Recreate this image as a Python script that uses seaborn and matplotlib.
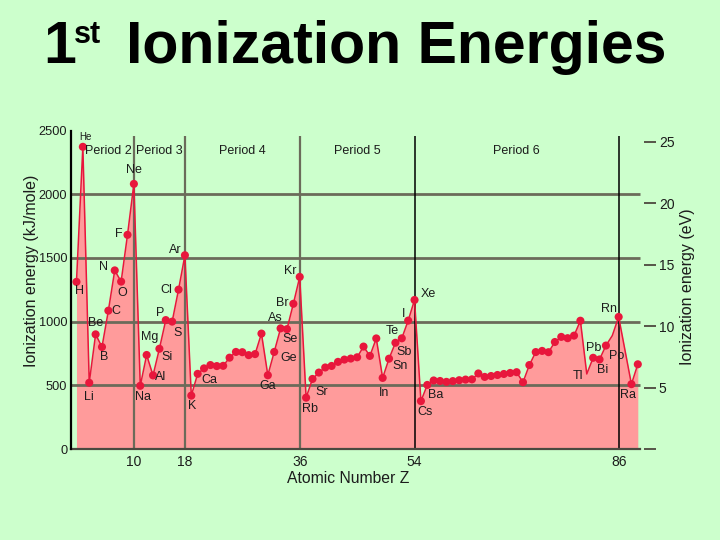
import matplotlib
matplotlib.use("Agg")
import matplotlib.pyplot as plt
import pandas as pd
import seaborn as sns

# ---------------- data ----------------
symbols = ["H", "He", "Li", "Be", "B", "C", "N", "O", "F", "Ne",
           "Na", "Mg", "Al", "Si", "P", "S", "Cl", "Ar",
           "K", "Ca", "Sc", "Ti", "V", "Cr", "Mn", "Fe", "Co", "Ni", "Cu", "Zn",
           "Ga", "Ge", "As", "Se", "Br", "Kr",
           "Rb", "Sr", "Y", "Zr", "Nb", "Mo", "Tc", "Ru", "Rh", "Pd", "Ag", "Cd",
           "In", "Sn", "Sb", "Te", "I", "Xe",
           "Cs", "Ba", "La", "Ce", "Pr", "Nd", "Pm", "Sm", "Eu", "Gd", "Tb", "Dy",
           "Ho", "Er", "Tm", "Yb", "Lu",
           "Hf", "Ta", "W", "Re", "Os", "Ir", "Pt", "Au", "Hg",
           "Tl", "Pb", "Bi", "Po", "At", "Rn",
           "Ra", "Ac"]
atomic_number = [1, 2, 3, 4, 5, 6, 7, 8, 9, 10,
                 11, 12, 13, 14, 15, 16, 17, 18,
                 19, 20, 21, 22, 23, 24, 25, 26, 27, 28, 29, 30,
                 31, 32, 33, 34, 35, 36,
                 37, 38, 39, 40, 41, 42, 43, 44, 45, 46, 47, 48,
                 49, 50, 51, 52, 53, 54,
                 55, 56, 57, 58, 59, 60, 61, 62, 63, 64, 65, 66,
                 67, 68, 69, 70, 71,
                 72, 73, 74, 75, 76, 77, 78, 79, 80,
                 81, 82, 83, 84, 85, 86,
                 88, 89]
ionization_kj = [1312, 2372, 520, 900, 801, 1086, 1402, 1314, 1681, 2081,
                 496, 738, 578, 787, 1012, 1000, 1251, 1521,
                 419, 590, 633, 659, 651, 653, 717, 762, 760, 737, 745, 906,
                 579, 762, 947, 941, 1140, 1351,
                 403, 550, 600, 640, 652, 684, 702, 710, 720, 804, 731, 868,
                 558, 709, 834, 869, 1008, 1170,
                 376, 503, 538, 534, 527, 533, 540, 545, 547, 593, 566, 573,
                 581, 589, 597, 603, 524,
                 659, 761, 770, 760, 840, 880, 870, 890, 1007,
                 589, 716, 703, 812, 890, 1037,
                 509, 665]
no_marker = ["Tl", "At"]

period_names = ["Period 2", "Period 3", "Period 4", "Period 5", "Period 6"]
period_bounds = [2, 10, 18, 36, 54, 86]
gray_bounds = [10, 18, 36]
black_bounds = [54, 86]

x_ticks = [10, 18, 36, 54, 86]
kj_ticks = [0, 500, 1000, 1500, 2000, 2500]
grid_kj = [500, 1000, 1500, 2000]
ev_ticks = [0, 5, 10, 15, 20, 25]
ev_tick_labels = ["", "5", "10", "15", "20", "25"]
KJ_PER_EV = 96.485

# ---------------- style ----------------
BG = "#ccffcc"
FILL = "#ff9b9b"
RED = "#e8173c"
GRID = "#6b6b5a"
TXT = "#1c1c1c"

# label offsets in pixels (dx, dy up)
label_offsets = {
    "H": (3, -9), "He": (3, 10), "Li": (0, -14), "Be": (0, 11), "B": (2, -10),
    "C": (8, 0), "N": (-11, 3), "O": (1, -11), "F": (-9, 1), "Ne": (0, 14),
    "Na": (3, -11), "Mg": (3, 18), "Al": (8, -2), "Si": (8, -8), "P": (-6, 7),
    "S": (5, -11), "Cl": (-12, 0), "Ar": (-10, 5), "K": (1, -10), "Ca": (12, -6),
    "Ga": (0, -11), "Ge": (14, -6), "As": (-5, 10), "Se": (3, -10), "Br": (-11, 1),
    "Kr": (-9, 6), "Rb": (4, -11), "Sr": (9, -13), "In": (1, -15), "Sn": (11, -7),
    "Sb": (9, -9), "Te": (-10, 7), "I": (-5, 7), "Xe": (14, 6), "Cs": (4, -11),
    "Ba": (8, -10), "Tl": (-9, -2), "Pb": (1, 10), "Bi": (3, -11), "Po": (11, -10),
    "Rn": (-10, 8), "Ra": (-3, -11),
}

sns.set_style("white")
plt.rcParams["font.family"] = ["Liberation Sans", "DejaVu Sans"]

df = pd.DataFrame({"Z": atomic_number, "IE": ionization_kj, "symbol": symbols})
df["marker"] = ~df["symbol"].isin(no_marker)

fig = plt.figure(figsize=(7.2, 5.4), dpi=100, facecolor=BG)
ax = fig.add_axes([0.0993, 0.1685, 0.7954, 0.5898])
ax.set_facecolor(BG)

XMIN, XMAX = 0.22, 90
XEND = 89.3
ax.set_xlim(XMIN, XMAX)
ax.set_ylim(0, 2500)

ax.fill_between(df["Z"], df["IE"], 0, color=FILL, lw=0, zorder=1)
ax.hlines(grid_kj, XMIN, XEND, colors=GRID, lw=2.0, zorder=2)
ax.vlines(gray_bounds, 0, 2460, colors=GRID, lw=1.6, zorder=2)
ax.vlines(black_bounds, 0, 2460, colors="black", lw=1.1, zorder=2)

sns.lineplot(data=df, x="Z", y="IE", color=RED, lw=1.1, estimator=None,
             ax=ax, zorder=3)
sns.scatterplot(data=df[df["marker"]], x="Z", y="IE", color=RED, s=34,
                edgecolor="none", linewidth=0, ax=ax, zorder=4)

for sym, (dx, dy) in label_offsets.items():
    row = df[df["symbol"] == sym].iloc[0]
    ax.annotate(sym, (row["Z"], row["IE"]), xytext=(dx, dy),
                textcoords="offset pixels", ha="center", va="center",
                fontsize=7 if sym == "He" else 9, color=TXT, zorder=5)

for name, lo, hi in zip(period_names, period_bounds[:-1], period_bounds[1:]):
    ax.text((lo + hi) / 2, 2340, name, ha="center", va="center",
            fontsize=9, color=TXT, zorder=5)

for s in ["top", "right"]:
    ax.spines[s].set_visible(False)
ax.spines["left"].set_color("black")
ax.spines["left"].set_linewidth(1.6)
ax.spines["bottom"].set_color("#4a4a40")
ax.spines["bottom"].set_linewidth(1.6)
ax.spines["bottom"].set_bounds(XMIN, XEND)
ax.spines["left"].set_zorder(6)

ax.set_xticks(x_ticks)
ax.set_xticklabels([str(t) for t in x_ticks])
ax.set_yticks(kj_ticks)
ax.set_yticklabels([str(t) for t in kj_ticks])
ax.tick_params(axis="x", length=0, pad=4, labelsize=10, labelcolor=TXT)
ax.tick_params(axis="y", length=0, pad=3, labelsize=9.2, labelcolor=TXT)

ax.set_xlabel("Atomic Number Z", fontsize=11.3, color=TXT)
ax.xaxis.set_label_coords(0.484, -0.069)
ax.set_ylabel("Ionization energy (kJ/mole)", fontsize=11.5, color=TXT)
ax.yaxis.set_label_coords(-0.069, 0.558)
ax.yaxis.label.set_va("center")

ax2 = ax.twinx()
ax2.set_ylim(0, 2500 / KJ_PER_EV)
ax2.set_yticks(ev_ticks)
ax2.set_yticklabels(ev_tick_labels)
for s in ax2.spines.values():
    s.set_visible(False)
ax2.tick_params(axis="y", direction="out", length=8.6, width=1.4,
                color="#555548", pad=2, labelsize=10, labelcolor=TXT)
ax2.set_ylabel("Ionization energy (eV)", fontsize=11.5, color=TXT,
               rotation=90)
ax2.yaxis.set_label_coords(1.0765, 0.511)
ax2.yaxis.label.set_va("center")
ax2.yaxis.label.set_ha("center")
ax2.grid(False)
ax.grid(False)

# title with superscript
W, H = 720, 540
fig.text(43 / W, 1 - 63 / H, "1", fontsize=42.5, fontweight="bold",
         color="black", va="baseline", ha="left")
fig.text(74 / W, 1 - 43 / H, "st", fontsize=22, fontweight="bold",
         color="black", va="baseline", ha="left")
fig.text(126 / W, 1 - 63 / H, "Ionization Energies", fontsize=42.5,
         fontweight="bold", color="black", va="baseline", ha="left")

fig.savefig("out.png", dpi=100, facecolor=BG)
